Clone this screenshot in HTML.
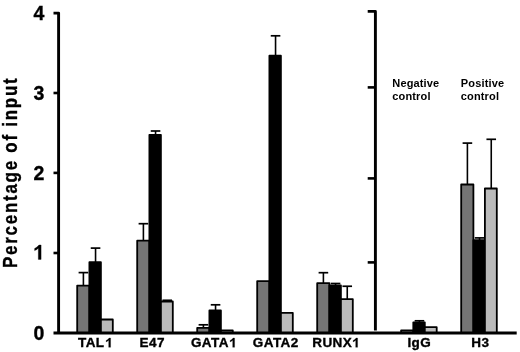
<!DOCTYPE html>
<html><head><meta charset="utf-8"><style>
html,body{margin:0;padding:0;background:#fff;}
body{width:520px;height:352px;position:relative;overflow:hidden;filter:grayscale(1) blur(0.35px);font-family:"Liberation Sans",sans-serif;font-weight:bold;color:#000;-webkit-text-stroke:0.35px #000;}
svg{position:absolute;left:0;top:0;}
svg.one{position:relative;left:0;top:0.7px;display:inline-block;vertical-align:baseline;overflow:visible;}
.yt svg.one{top:-0.5px;}
.xl{position:absolute;top:334.6px;width:80px;text-align:center;font-size:13.5px;letter-spacing:0.45px;line-height:16px;white-space:nowrap;}
.yt{position:absolute;left:0;width:44.3px;text-align:right;font-size:19.5px;line-height:22px;}
.ctl{position:absolute;top:77.4px;font-size:11px;line-height:13.1px;letter-spacing:0.15px;-webkit-text-stroke:0;}
.ylab{position:absolute;left:-89.8px;top:169.6px;width:200px;height:22px;line-height:22px;text-align:center;font-size:19.5px;transform:rotate(-90deg) scaleX(0.87);letter-spacing:2.0px;white-space:nowrap;}
</style></head><body>
<svg width="520" height="352" viewBox="0 0 520 352">
<line x1="83.40" y1="272.60" x2="83.40" y2="285.70" stroke="#000" stroke-width="1.6"/>
<line x1="78.60" y1="272.60" x2="88.20" y2="272.60" stroke="#000" stroke-width="1.7"/>
<line x1="95.55" y1="248.10" x2="95.55" y2="262.30" stroke="#000" stroke-width="1.6"/>
<line x1="90.75" y1="248.10" x2="100.35" y2="248.10" stroke="#000" stroke-width="1.7"/>
<rect x="77.20" y="285.60" width="12.20" height="47.40" fill="#757575" stroke="#000" stroke-width="1.8" stroke-linejoin="round"/>
<rect x="89.40" y="262.20" width="11.50" height="70.80" fill="#000000" stroke="#000" stroke-width="1.8" stroke-linejoin="round"/>
<rect x="100.90" y="319.50" width="11.90" height="13.50" fill="#bbbbbb" stroke="#000" stroke-width="1.8" stroke-linejoin="round"/>
<line x1="143.40" y1="223.70" x2="143.40" y2="240.80" stroke="#000" stroke-width="1.6"/>
<line x1="138.60" y1="223.70" x2="148.20" y2="223.70" stroke="#000" stroke-width="1.7"/>
<line x1="155.55" y1="131.00" x2="155.55" y2="134.90" stroke="#000" stroke-width="1.6"/>
<line x1="150.75" y1="131.00" x2="160.35" y2="131.00" stroke="#000" stroke-width="1.7"/>
<line x1="167.25" y1="300.30" x2="167.25" y2="301.60" stroke="#000" stroke-width="1.6"/>
<line x1="162.45" y1="300.30" x2="172.05" y2="300.30" stroke="#000" stroke-width="1.7"/>
<rect x="137.20" y="240.70" width="12.20" height="92.30" fill="#757575" stroke="#000" stroke-width="1.8" stroke-linejoin="round"/>
<rect x="149.40" y="134.80" width="11.50" height="198.20" fill="#000000" stroke="#000" stroke-width="1.8" stroke-linejoin="round"/>
<rect x="160.90" y="301.50" width="11.90" height="31.50" fill="#bbbbbb" stroke="#000" stroke-width="1.8" stroke-linejoin="round"/>
<line x1="203.40" y1="324.80" x2="203.40" y2="328.00" stroke="#000" stroke-width="1.6"/>
<line x1="198.60" y1="324.80" x2="208.20" y2="324.80" stroke="#000" stroke-width="1.7"/>
<line x1="215.55" y1="304.80" x2="215.55" y2="310.60" stroke="#000" stroke-width="1.6"/>
<line x1="210.75" y1="304.80" x2="220.35" y2="304.80" stroke="#000" stroke-width="1.7"/>
<rect x="197.20" y="327.90" width="12.20" height="5.10" fill="#757575" stroke="#000" stroke-width="1.8" stroke-linejoin="round"/>
<rect x="209.40" y="310.50" width="11.50" height="22.50" fill="#000000" stroke="#000" stroke-width="1.8" stroke-linejoin="round"/>
<rect x="220.90" y="330.50" width="11.90" height="2.50" fill="#bbbbbb" stroke="#000" stroke-width="1.8" stroke-linejoin="round"/>
<line x1="275.55" y1="35.80" x2="275.55" y2="55.80" stroke="#000" stroke-width="1.6"/>
<line x1="270.75" y1="35.80" x2="280.35" y2="35.80" stroke="#000" stroke-width="1.7"/>
<rect x="257.20" y="281.10" width="12.20" height="51.90" fill="#757575" stroke="#000" stroke-width="1.8" stroke-linejoin="round"/>
<rect x="269.40" y="55.70" width="11.50" height="277.30" fill="#000000" stroke="#000" stroke-width="1.8" stroke-linejoin="round"/>
<rect x="280.90" y="312.80" width="11.90" height="20.20" fill="#bbbbbb" stroke="#000" stroke-width="1.8" stroke-linejoin="round"/>
<line x1="323.40" y1="272.70" x2="323.40" y2="283.30" stroke="#000" stroke-width="1.6"/>
<line x1="318.60" y1="272.70" x2="328.20" y2="272.70" stroke="#000" stroke-width="1.7"/>
<line x1="335.55" y1="283.50" x2="335.55" y2="285.40" stroke="#000" stroke-width="1.6"/>
<line x1="330.75" y1="283.50" x2="340.35" y2="283.50" stroke="#000" stroke-width="1.7"/>
<line x1="347.25" y1="286.25" x2="347.25" y2="299.20" stroke="#000" stroke-width="1.6"/>
<line x1="342.45" y1="286.25" x2="352.05" y2="286.25" stroke="#000" stroke-width="1.7"/>
<rect x="317.20" y="283.20" width="12.20" height="49.80" fill="#757575" stroke="#000" stroke-width="1.8" stroke-linejoin="round"/>
<rect x="329.40" y="285.30" width="11.50" height="47.70" fill="#000000" stroke="#000" stroke-width="1.8" stroke-linejoin="round"/>
<rect x="340.90" y="299.10" width="11.90" height="33.90" fill="#bbbbbb" stroke="#000" stroke-width="1.8" stroke-linejoin="round"/>
<line x1="419.45" y1="320.80" x2="419.45" y2="322.40" stroke="#000" stroke-width="1.6"/>
<line x1="414.65" y1="320.80" x2="424.25" y2="320.80" stroke="#000" stroke-width="1.7"/>
<rect x="401.10" y="330.40" width="12.20" height="2.60" fill="#757575" stroke="#000" stroke-width="1.8" stroke-linejoin="round"/>
<rect x="413.30" y="322.30" width="11.50" height="10.70" fill="#000000" stroke="#000" stroke-width="1.8" stroke-linejoin="round"/>
<rect x="424.80" y="327.20" width="11.90" height="5.80" fill="#bbbbbb" stroke="#000" stroke-width="1.8" stroke-linejoin="round"/>
<line x1="467.40" y1="143.10" x2="467.40" y2="184.60" stroke="#000" stroke-width="1.6"/>
<line x1="462.60" y1="143.10" x2="472.20" y2="143.10" stroke="#000" stroke-width="1.7"/>
<line x1="479.55" y1="237.90" x2="479.55" y2="240.20" stroke="#000" stroke-width="1.6"/>
<line x1="474.75" y1="237.90" x2="484.35" y2="237.90" stroke="#000" stroke-width="1.7"/>
<line x1="491.25" y1="139.30" x2="491.25" y2="188.60" stroke="#000" stroke-width="1.6"/>
<line x1="486.45" y1="139.30" x2="496.05" y2="139.30" stroke="#000" stroke-width="1.7"/>
<rect x="461.20" y="184.50" width="12.20" height="148.50" fill="#757575" stroke="#000" stroke-width="1.8" stroke-linejoin="round"/>
<rect x="473.40" y="240.10" width="11.50" height="92.90" fill="#000000" stroke="#000" stroke-width="1.8" stroke-linejoin="round"/>
<rect x="484.90" y="188.50" width="11.90" height="144.50" fill="#bbbbbb" stroke="#000" stroke-width="1.8" stroke-linejoin="round"/>
<path d="M53.5,13.1 L58.6,13.1 L58.6,333" fill="none" stroke="#000" stroke-width="2.9" stroke-linejoin="round"/>
<line x1="53.5" y1="93" x2="59" y2="93" stroke="#000" stroke-width="2.6"/>
<line x1="53.5" y1="172.9" x2="59" y2="172.9" stroke="#000" stroke-width="2.6"/>
<line x1="53.5" y1="253" x2="59" y2="253" stroke="#000" stroke-width="2.6"/>
<line x1="53.5" y1="333" x2="516.7" y2="333" stroke="#000" stroke-width="2.8"/>
<path d="M367.7,11.4 L375.4,11.4 L375.4,330.6" fill="none" stroke="#000" stroke-width="2.9" stroke-linejoin="round"/>
<line x1="367.7" y1="87.4" x2="376" y2="87.4" stroke="#000" stroke-width="2.6"/>
<line x1="367.7" y1="178.4" x2="376" y2="178.4" stroke="#000" stroke-width="2.6"/>
<line x1="367.7" y1="262.4" x2="376" y2="262.4" stroke="#000" stroke-width="2.6"/>
</svg>
<div class="xl" style="left:55.00px">TAL<svg class="one" viewBox="0 -1420 1139 1420" width="0.5562em" height="0.6934em"><path d="M850,0 L850,-1420 L630,-1420 Q420,-1170 170,-1050 L170,-830 Q390,-920 560,-1090 L560,0 Z" fill="#000" stroke="#000" stroke-width="36"/></svg></div>
<div class="xl" style="left:112.30px">E47</div>
<div class="xl" style="left:173.70px">GATA<svg class="one" viewBox="0 -1420 1139 1420" width="0.5562em" height="0.6934em"><path d="M850,0 L850,-1420 L630,-1420 Q420,-1170 170,-1050 L170,-830 Q390,-920 560,-1090 L560,0 Z" fill="#000" stroke="#000" stroke-width="36"/></svg></div>
<div class="xl" style="left:235.75px">GATA2</div>
<div class="xl" style="left:296.00px">RUNX<svg class="one" viewBox="0 -1420 1139 1420" width="0.5562em" height="0.6934em"><path d="M850,0 L850,-1420 L630,-1420 Q420,-1170 170,-1050 L170,-830 Q390,-920 560,-1090 L560,0 Z" fill="#000" stroke="#000" stroke-width="36"/></svg></div>
<div class="xl" style="left:379.35px">IgG</div>
<div class="xl" style="left:440.35px">H3</div>
<div class="yt" style="top:2.00px">4</div>
<div class="yt" style="top:82.00px">3</div>
<div class="yt" style="top:162.00px">2</div>
<div class="yt" style="top:242.00px"><svg class="one" viewBox="0 -1510 1139 1510" width="0.5562em" height="0.7373em"><path d="M850,0 L850,-1510 L630,-1510 Q420,-1260 170,-1140 L170,-920 Q390,-1010 560,-1180 L560,0 Z" fill="#000" stroke="#000" stroke-width="36"/></svg></div>
<div class="yt" style="top:322.00px">0</div>
<div class="ctl" style="left:392.3px">Negative<br>control</div>
<div class="ctl" style="left:460.8px">Positive<br>control</div>
<div class="ylab">Percentage of input</div>
</body></html>
